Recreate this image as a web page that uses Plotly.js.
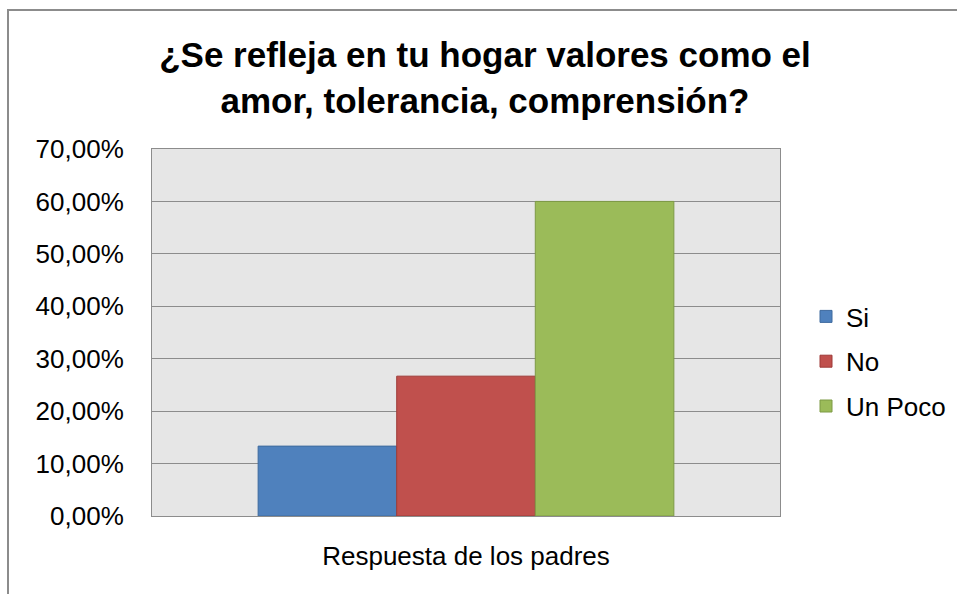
<!DOCTYPE html>
<html><head><meta charset="utf-8">
<script src="https://cdn.plot.ly/plotly-3.0.1.min.js"></script>
<style>
html,body{margin:0;padding:0;background:#fff;}
#wrap{position:relative;width:957px;height:594px;overflow:hidden;}
#chart{position:absolute;left:0;top:0;width:957px;height:594px;}
#frame{position:absolute;left:7px;top:9px;width:1000px;height:700px;border-left:2px solid #8c8c8c;border-top:2px solid #8c8c8c;pointer-events:none;}
</style></head>
<body><div id="wrap"><div id="chart"></div><div id="frame"></div></div>
<script>
const category = ["Respuesta de los padres"];
const seriesNames = ["Si", "No", "Un Poco"];
const seriesValues = [0.1333, 0.2667, 0.60];
const fillColors = ["#4F81BD", "#C0504D", "#9BBB59"];
const edgeColors = ["#3E6A9E", "#9E3B38", "#7D9A45"];
const titleText = "¿Se refleja en tu hogar valores como el<br>amor, tolerancia, comprensión?";

const font = "Liberation Sans, Arial, sans-serif";
const data = seriesNames.map((n, i) => ({
  type: "bar", name: n, x: category, y: [seriesValues[i]],
  legendgroup: n,
  marker: {color: fillColors[i], line: {color: edgeColors[i], width: 1}},
  hoverinfo: "skip"
}));
const layout = {
  width: 957, height: 594,
  margin: {l: 152, r: 177, t: 149, b: 78},
  paper_bgcolor: "#ffffff", plot_bgcolor: "#E6E6E6",
  separators: ",.",
  font: {family: font, color: "#000"},
  title: {text: titleText, font: {family: font, size: 35, color: "#000", weight: "bold"},
          xref: "container", x: 485/957, xanchor: "center",
          yref: "container", y: 1 - 67/594, yanchor: "middle"},
  barmode: "group", bargap: 0.338, bargroupgap: 0,
  xaxis: {type: "category", showgrid: false, ticks: "", showline: true, linecolor: "#8c8c8c", linewidth: 1,
          mirror: true, tickfont: {size: 26, family: font}, ticklabelstandoff: 17, zeroline: false},
  yaxis: {range: [0, 0.7], dtick: 0.1, tick0: 0, tickformat: ".2%", showgrid: true, gridcolor: "#8c8c8c", gridwidth: 1,
          showline: true, linecolor: "#8c8c8c", linewidth: 1, mirror: true, ticks: "", zeroline: false,
          tickfont: {size: 26, family: font}, ticklabelstandoff: 22},
  legend: {x: 806/957, xref: "container", y: 1 - 293/594, yref: "container", xanchor: "left", yanchor: "top",
           font: {size: 26, family: font}, tracegroupgap: 8, bgcolor: "rgba(0,0,0,0)", traceorder: "grouped"},
  showlegend: true
};
Plotly.newPlot("chart", data, layout, {displayModeBar: false, staticPlot: true});
</script></body></html>
